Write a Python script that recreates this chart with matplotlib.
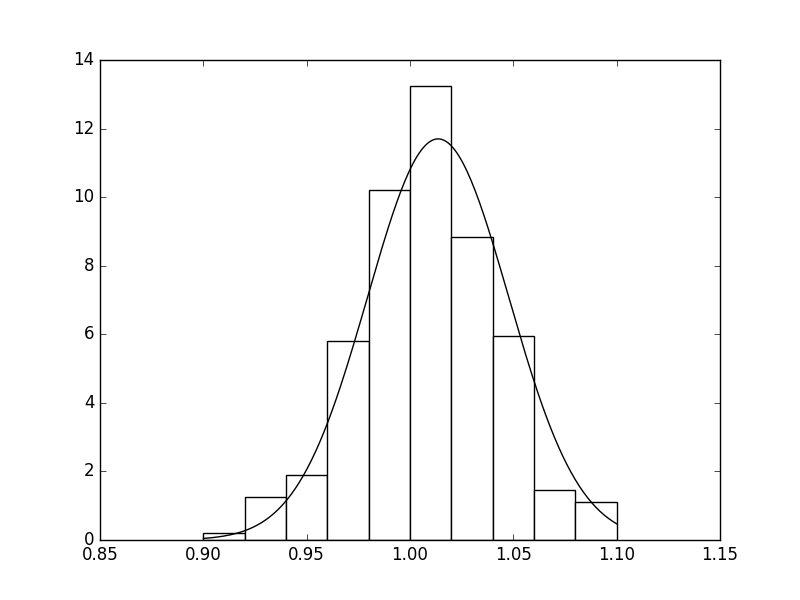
import numpy as np
import matplotlib
matplotlib.use('Agg')
import matplotlib.pyplot as plt

plt.style.use('classic')

# histogram (density)
bin_edges = [0.90, 0.92, 0.94, 0.96, 0.98, 1.00, 1.02, 1.04, 1.06, 1.08, 1.10]
densities = [0.2, 1.25, 1.9, 5.8, 10.2, 13.24, 8.84, 5.94, 1.45, 1.12]

# fitted normal curve
mu = 1.0136
sigma = 0.0341

fig, ax = plt.subplots(figsize=(8, 6), dpi=100)

widths = np.diff(bin_edges)
ax.bar(bin_edges[:-1], densities, width=widths, align='edge',
       facecolor='white', edgecolor='black', linewidth=1)

x = np.linspace(bin_edges[0], bin_edges[-1], 200)
pdf = np.exp(-(x - mu) ** 2 / (2 * sigma ** 2)) / (sigma * np.sqrt(2 * np.pi))
ax.plot(x, pdf, color='black', linewidth=1)

ax.set_xlim(0.85, 1.15)
ax.set_ylim(0, 14)

fig.savefig('out.png', dpi=100)
